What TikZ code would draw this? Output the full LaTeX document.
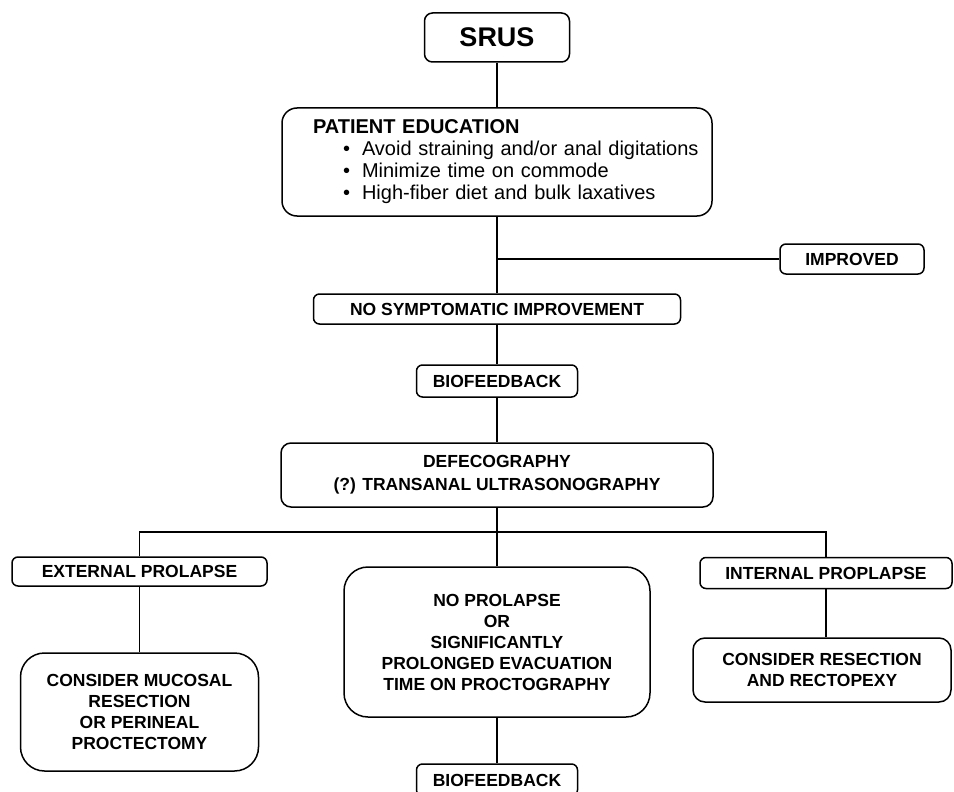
\documentclass[tikz,border=0pt]{standalone}
\usepackage{fontspec}
\setmainfont{Liberation Sans}
\usepackage{tikz}

\begin{document}
\begin{tikzpicture}[x=1pt,y=-1pt,line width=1.5pt,
    box/.style={draw,rounded corners=6pt,align=center,inner sep=0pt,
        font=\bfseries\fontsize{17.5}{21}\selectfont},
    bigbox/.style={box,rounded corners=24pt}]
    \useasboundingbox (0,0) rectangle (954,792);

    \node[box,rounded corners=8pt,minimum width=145pt,minimum height=49pt,
        font=\bfseries\fontsize{27}{30}\selectfont] (srus) at (497,37.5) {SRUS};

    \node[box,rounded corners=15pt,minimum width=430pt,minimum height=108pt,
        text width=424pt,align=left,inner xsep=3pt,
        font=\fontsize{20}{22}\selectfont] (educ) at (497,162)
        {\hspace*{28pt}\textbf{PATIENT EDUCATION}\\
         \hspace*{58pt}\textbullet\hspace{12pt}Avoid straining and/or anal digitations\\
         \hspace*{58pt}\textbullet\hspace{12pt}Minimize time on commode\\
         \hspace*{58pt}\textbullet\hspace{12pt}High-fiber diet and bulk laxatives};

    \coordinate (jn) at (497,259);
    \node[box,minimum width=144pt,minimum height=30pt] (improved) at (852,259) {IMPROVED};
    \node[box,minimum width=367pt,minimum height=30pt] (nosym) at (497,309) {NO SYMPTOMATIC IMPROVEMENT};
    \node[box,minimum width=161pt,minimum height=32pt] (bio) at (497,381) {BIOFEEDBACK};
    \node[box,rounded corners=10pt,minimum width=432pt,minimum height=64pt,
        font=\bfseries\fontsize{17.5}{23}\selectfont] (defeco) at (497,475)
        {DEFECOGRAPHY\\(?) TRANSANAL ULTRASONOGRAPHY};

    % three outcomes of defecography
    \coordinate (split) at (497,532);
    \node[box,minimum width=255pt,minimum height=29pt] (ext) at (139.5,571.5) {EXTERNAL PROLAPSE};
    \node[bigbox,minimum width=306pt,minimum height=150pt] (noprol) at (497,642)
        {NO PROLAPSE\\OR\\SIGNIFICANTLY\\PROLONGED EVACUATION\\TIME ON PROCTOGRAPHY};
    \node[box,minimum width=252pt,minimum height=31pt] (int) at (826,573) {INTERNAL PROPLAPSE};

    \node[bigbox,minimum width=238pt,minimum height=118pt] (mucosal) at (139.5,712)
        {CONSIDER MUCOSAL\\RESECTION\\OR PERINEAL\\PROCTECTOMY};
    \node[box,rounded corners=12pt,minimum width=258pt,minimum height=64pt] (rectopexy) at (822,670)
        {CONSIDER RESECTION\\AND RECTOPEXY};
    \node[box,minimum width=161pt,minimum height=32pt] (biob) at (497,780) {BIOFEEDBACK};

    \draw (srus) -- (educ);
    \draw (educ) -- (nosym);
    \draw (jn) -- (improved);
    \draw (nosym) -- (bio);
    \draw (bio) -- (defeco);
    \draw (defeco) -- (noprol);
    \draw (ext) |- (split) -| (int);
    \draw (ext) -- (mucosal);
    \draw (int.south) -- (int.south |- rectopexy.north);
    \draw (noprol) -- (biob);
\end{tikzpicture}
\end{document}
